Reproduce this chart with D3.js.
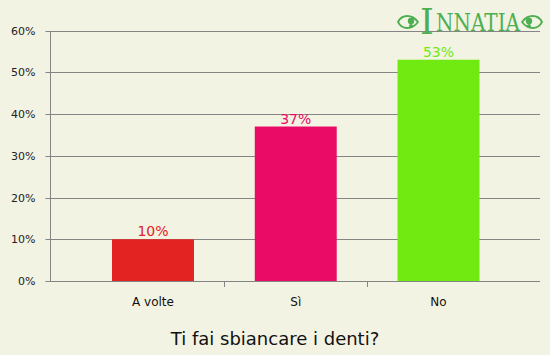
<!DOCTYPE html>
<html>
<head>
<meta charset="utf-8">
<script src="https://cdn.jsdelivr.net/npm/d3@7"></script>
<style>
  body { margin: 0; background: #f3f3e3; }
  svg { display: block; font-family: "DejaVu Sans", Verdana, sans-serif; }
</style>
</head>
<body>
<div id="chart"></div>
<script>
const categories = ["A volte", "Sì", "No"]
const values = [10, 37, 53]
const colors = ["#e32222", "#e90b65", "#70ea10"]
const yTicks = [0, 10, 20, 30, 40, 50, 60]
const title = "Ti fai sbiancare i denti?"

const width = 550
const height = 355
const plot = { left: 50, right: 540, top: 30.5, bottom: 281 }

const svg = d3.select("#chart")
  .append("svg")
  .attr("width", width)
  .attr("height", height)

svg.append("rect")
  .attr("width", width)
  .attr("height", height)
  .attr("fill", "#f3f3e3")

const y = d3.scaleLinear()
  .domain([0, 60])
  .range([plot.bottom, plot.top])

const x = d3.scaleBand()
  .domain(categories)
  .range([81.6, 509.9])
  .paddingInner(0.426)
  .paddingOuter(0.213)

// grid lines
svg.selectAll("line.grid")
  .data(yTicks)
  .enter()
    .append("line")
    .attr("class", "grid")
    .attr("x1", plot.left)
    .attr("x2", plot.right)
    .attr("y1", d => Math.round(y(d)) + 0.5)
    .attr("y2", d => Math.round(y(d)) + 0.5)
    .attr("stroke", "#858585")
    .attr("stroke-width", 1)

// logo
const green = "#4caf52"
const logo = svg.append("g").attr("fill", green)
logo.append("text")
  .attr("x", 420)
  .attr("y", 33.5)
  .attr("font-family", "DejaVu Serif, serif")
  .attr("font-size", 35)
  .text("I")
logo.append("text")
  .attr("x", 436)
  .attr("y", 31)
  .attr("font-family", "DejaVu Serif, serif")
  .attr("font-size", 25)
  .attr("textLength", 84)
  .attr("lengthAdjust", "spacingAndGlyphs")
  .text("NNATIA")
const ornament = (cx, flip) => {
  const g = logo.append("g").attr("transform", `translate(${cx},22) scale(${flip ? -1 : 1},1)`)
  g.append("path")
    .attr("d", "M-10,0 C-6,-8 4,-8 10,0 C4,8 -6,8 -10,0 Z")
    .attr("fill", "none")
    .attr("stroke", green)
    .attr("stroke-width", 1.8)
  g.append("circle").attr("cx", 3).attr("cy", -1).attr("r", 3.2)
  g.append("circle").attr("cx", 3).attr("cy", 4).attr("r", 2)
}
ornament(408, false)
ornament(532, true)

// y axis
const yAxis = svg.append("g")
  .attr("transform", `translate(${plot.left + 0.5},0.5)`)
  .call(d3.axisLeft(y).tickValues(yTicks).tickFormat(d => d + "%").tickSize(5).tickPadding(10))
yAxis.select(".domain").attr("stroke", "#858585").attr("d", `M0,${y(60)}V${y(0)}`)
yAxis.selectAll(".tick line").attr("stroke", "#858585")
yAxis.selectAll(".tick").attr("transform", d => `translate(0,${Math.round(y(d))})`)
yAxis.selectAll("text")
  .attr("font-family", "DejaVu Sans, sans-serif")
  .attr("font-size", 11)
  .attr("fill", "#222")

// category boundary ticks
const boundaries = categories.slice(1).map(c => x(c) - x.step() * x.paddingInner() / 2)
svg.selectAll("line.xtick")
  .data(boundaries)
  .enter()
    .append("line")
    .attr("class", "xtick")
    .attr("x1", d => Math.round(d) + 0.5)
    .attr("x2", d => Math.round(d) + 0.5)
    .attr("y1", plot.bottom)
    .attr("y2", plot.bottom + 6)
    .attr("stroke", "#858585")

// bars
svg.selectAll("rect.bar")
  .data(values)
  .enter()
    .append("rect")
    .attr("class", "bar")
    .attr("x", (d, i) => x(categories[i]))
    .attr("width", x.bandwidth())
    .attr("y", d => y(d))
    .attr("height", d => y(0) - y(d))
    .attr("fill", (d, i) => colors[i])

// value labels
svg.selectAll("text.value")
  .data(values)
  .enter()
    .append("text")
    .attr("class", "value")
    .attr("x", (d, i) => x(categories[i]) + x.bandwidth() / 2)
    .attr("y", d => y(d) - 3)
    .attr("text-anchor", "middle")
    .attr("font-size", 14)
    .attr("fill", (d, i) => colors[i])
    .text(d => d + "%")

// category labels
svg.selectAll("text.cat")
  .data(categories)
  .enter()
    .append("text")
    .attr("class", "cat")
    .attr("x", d => x(d) + x.bandwidth() / 2)
    .attr("y", 306)
    .attr("text-anchor", "middle")
    .attr("font-size", 12)
    .attr("fill", "#111")
    .text(d => d)

// title
svg.append("text")
  .attr("x", 275)
  .attr("y", 345)
  .attr("text-anchor", "middle")
  .attr("font-size", 18)
  .attr("fill", "#111")
  .text(title)
</script>
</body>
</html>
